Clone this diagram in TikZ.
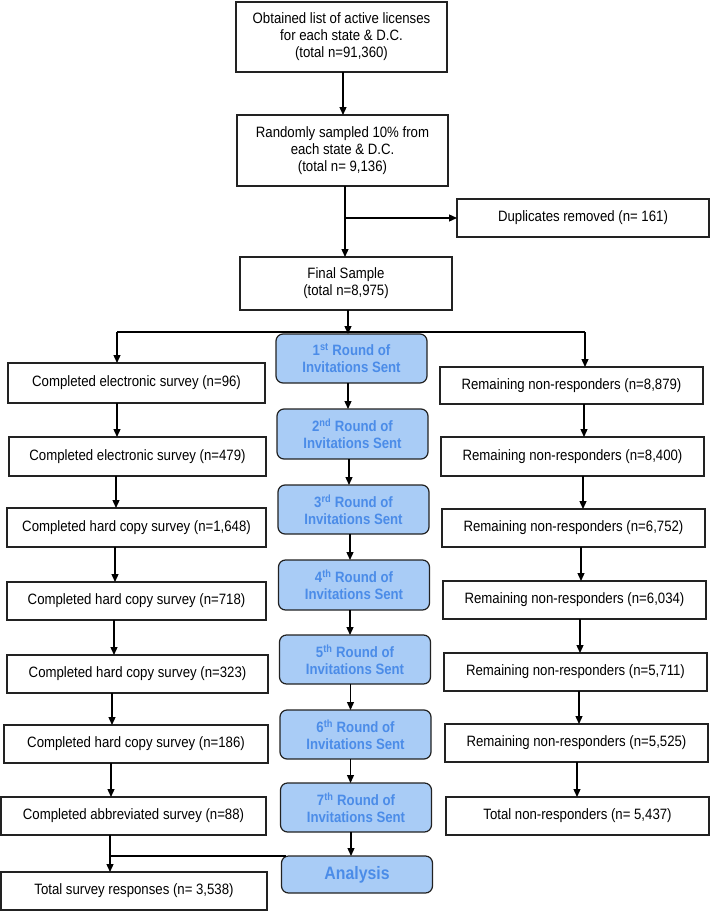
\documentclass[tikz,border=0pt]{standalone}
\usepackage{fontspec}
\setmainfont{Liberation Sans}[FakeStretch=0.88]
\usetikzlibrary{arrows.meta}
\definecolor{rfill}{HTML}{A9CCF6}
\definecolor{rtext}{HTML}{4B8CE8}
\definecolor{edge}{HTML}{222222}
\begin{document}
\begin{tikzpicture}[x=1pt,y=-1pt,
  every node/.style={inner sep=0pt, outer sep=0pt, align=center, font=\fontsize{15}{17}\selectfont},
  box/.style={draw=edge, line width=1.2pt, fill=white},
  rbox/.style={draw=edge, line width=1.2pt, fill=rfill, rounded corners=7pt, text=rtext, font=\fontsize{15}{17}\selectfont\bfseries, minimum width=151pt},
  arr/.style={draw=black, line width=1.3pt, -{Triangle[length=8pt,width=7pt]}},
  ln/.style={draw=black, line width=1.3pt}
]
\useasboundingbox (0,0) rectangle (710,911);

% top part
\node[box, minimum width=211pt, minimum height=70pt] (top) at (341.5,37) {Obtained list of active licenses\\for each state \& D.C.\\(total n=91,360)};
\node[box, minimum width=211pt, minimum height=71pt] (b2) at (342.5,150.5) {Randomly sampled 10\% from\\each state \& D.C.\\(total n= 9,136)};
\node[box, minimum width=252pt, minimum height=38pt] (dup) at (583,218) {Duplicates removed (n= 161)};
\node[box, minimum width=212pt, minimum height=53pt] (fin) at (346,283.5) {Final Sample\\(total n=8,975)};

% center column
\node[rbox, minimum height=49pt] (r1) at (351.5,358.5) {1\textsuperscript{st} Round of\\Invitations Sent};
\node[rbox, minimum height=50pt] (r2) at (352.5,434) {2\textsuperscript{nd} Round of\\Invitations Sent};
\node[rbox, minimum height=49pt] (r3) at (353.5,509.5) {3\textsuperscript{rd} Round of\\Invitations Sent};
\node[rbox, minimum height=50pt] (r4) at (354,585) {4\textsuperscript{th} Round of\\Invitations Sent};
\node[rbox, minimum height=49pt] (r5) at (355,659.5) {5\textsuperscript{th} Round of\\Invitations Sent};
\node[rbox, minimum height=49pt] (r6) at (355.5,734.5) {6\textsuperscript{th} Round of\\Invitations Sent};
\node[rbox, minimum height=49pt] (r7) at (356,807.5) {7\textsuperscript{th} Round of\\Invitations Sent};
\node[rbox, minimum height=37pt, font=\fontsize{18}{20}\selectfont\bfseries] (an) at (357,874.5) {Analysis};

% left column
\node[box, minimum width=257pt, minimum height=40pt] (l1) at (136.5,383) {Completed electronic survey (n=96)};
\node[box, minimum width=257pt, minimum height=39pt] (l2) at (137.5,456.5) {Completed electronic survey (n=479)};
\node[box, minimum width=259pt, minimum height=39pt] (l3) at (136.5,527.5) {Completed hard copy survey (n=1,648)};
\node[box, minimum width=259pt, minimum height=38pt] (l4) at (136.5,601) {Completed hard copy survey (n=718)};
\node[box, minimum width=261pt, minimum height=38pt] (l5) at (137.5,674) {Completed hard copy survey (n=323)};
\node[box, minimum width=264pt, minimum height=38pt] (l6) at (136,744) {Completed hard copy survey (n=186)};
\node[box, minimum width=265pt, minimum height=38pt] (l7) at (133.5,816) {Completed abbreviated survey (n=88)};
\node[box, minimum width=266pt, minimum height=38pt] (lt) at (134,891) {Total survey responses (n= 3,538)};

% right column
\node[box, minimum width=263pt, minimum height=37pt] (q1) at (571.5,385.5) {Remaining non-responders (n=8,879)};
\node[box, minimum width=263pt, minimum height=39pt] (q2) at (572.5,456.5) {Remaining non-responders (n=8,400)};
\node[box, minimum width=263pt, minimum height=38pt] (q3) at (573.5,528) {Remaining non-responders (n=6,752)};
\node[box, minimum width=263pt, minimum height=38pt] (q4) at (574.5,600) {Remaining non-responders (n=6,034)};
\node[box, minimum width=263pt, minimum height=38pt] (q5) at (575.5,672) {Remaining non-responders (n=5,711)};
\node[box, minimum width=263pt, minimum height=38pt] (q6) at (576.5,743) {Remaining non-responders (n=5,525)};
\node[box, minimum width=263pt, minimum height=38pt] (q7) at (577.5,816) {Total non-responders (n= 5,437)};

% top connectors
\draw[arr] ([xshift=1.5pt]top.south) -- ([xshift=1.5pt]top.south |- b2.north);
\coordinate (jb) at ([xshift=2.5pt]b2.south |- dup.west);
\draw[ln] ([xshift=2.5pt]b2.south) -- (jb);
\draw[arr] (jb) -- (dup.west);
\draw[arr] (jb) -- (jb |- fin.north);

% split line
\coordinate (sl) at (117,332);
\coordinate (sr) at (585,332);
\draw[ln] (sl) -- (sr);
\draw[arr] (sl) -- (sl |- l1.north);
\draw[arr] (sr) -- (sr |- q1.north);
\draw[arr] ([xshift=2pt]fin.south) -- ([xshift=2pt]fin.south |- r1.north);

% center arrows
\draw[arr] ([xshift=-3.5pt]r1.south) -- ([xshift=-3.5pt]r1.south |- r2.north);
\draw[arr] ([xshift=-3.5pt]r2.south) -- ([xshift=-3.5pt]r2.south |- r3.north);
\draw[arr] ([xshift=-3.5pt]r3.south) -- ([xshift=-3.5pt]r3.south |- r4.north);
\draw[arr] ([xshift=-4pt]r4.south) -- ([xshift=-4pt]r4.south |- r5.north);
\draw[arr] ([xshift=-4.5pt]r5.south) -- ([xshift=-4.5pt]r5.south |- r6.north);
\draw[arr] ([xshift=-5pt]r6.south) -- ([xshift=-5pt]r6.south |- r7.north);
\draw[arr] ([xshift=-5pt]r7.south) -- ([xshift=-5pt]r7.south |- an.north);

% left arrows
\draw[arr] ([xshift=109pt]l1.south west) -- ([xshift=109pt]l1.south west |- l2.north);
\draw[arr] ([xshift=107pt]l2.south west) -- ([xshift=107pt]l2.south west |- l3.north);
\draw[arr] ([xshift=108pt]l3.south west) -- ([xshift=108pt]l3.south west |- l4.north);
\draw[arr] ([xshift=107pt]l4.south west) -- ([xshift=107pt]l4.south west |- l5.north);
\draw[arr] ([xshift=105pt]l5.south west) -- ([xshift=105pt]l5.south west |- l6.north);
\draw[arr] ([xshift=107pt]l6.south west) -- ([xshift=107pt]l6.south west |- l7.north);
\coordinate (jl) at ([xshift=109pt]l7.south west |- an.north);
\draw[arr] ([xshift=109pt]l7.south west) -- ([xshift=109pt]l7.south west |- lt.north);
\draw[ln] (jl) -- ([xshift=4pt]an.north west);

% right arrows
\draw[arr] ([xshift=144pt]q1.south west) -- ([xshift=144pt]q1.south west |- q2.north);
\draw[arr] ([xshift=142pt]q2.south west) -- ([xshift=142pt]q2.south west |- q3.north);
\draw[arr] ([xshift=139pt]q3.south west) -- ([xshift=139pt]q3.south west |- q4.north);
\draw[arr] ([xshift=137pt]q4.south west) -- ([xshift=137pt]q4.south west |- q5.north);
\draw[arr] ([xshift=135pt]q5.south west) -- ([xshift=135pt]q5.south west |- q6.north);
\draw[arr] ([xshift=132pt]q6.south west) -- ([xshift=132pt]q6.south west |- q7.north);
\end{tikzpicture}
\end{document}
